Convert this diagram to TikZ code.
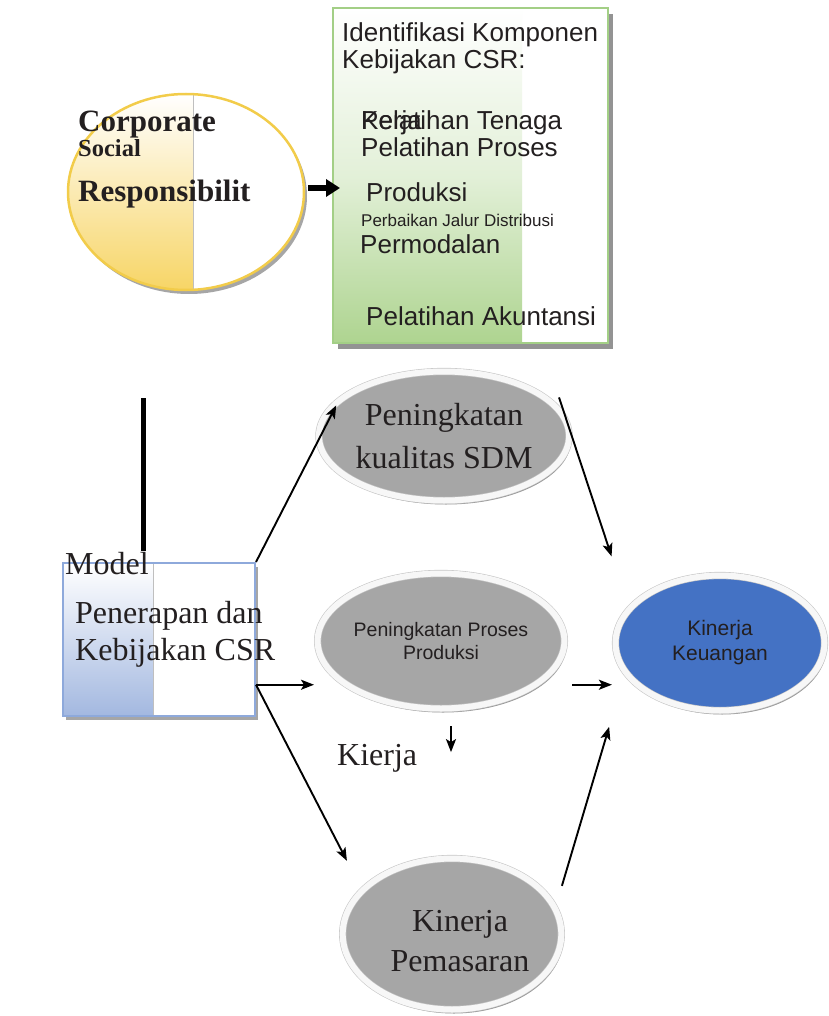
\documentclass[tikz,border=0pt]{standalone}
\usepackage{fontspec}
\setmainfont{Liberation Serif}
\setsansfont{Liberation Sans}
\usetikzlibrary{shapes.geometric,arrows.meta,shadows}

\definecolor{csryellow}{HTML}{F7D566}
\definecolor{csrborder}{HTML}{F2CC4A}
\definecolor{kompgreen}{HTML}{AED490}
\definecolor{kompborder}{HTML}{A3CF86}
\definecolor{modelblue}{HTML}{A3B8E0}
\definecolor{modelborder}{HTML}{8EA9DB}
\definecolor{ovalgray}{HTML}{A6A6A6}
\definecolor{ovalblue}{HTML}{4472C4}
\definecolor{ink}{HTML}{231F20}

\tikzset{
  oval/.style={ellipse, draw=gray!45, double=gray!6, double distance=6pt, line width=0.6pt,
    inner sep=0pt, outer sep=3.6pt, align=center, text=ink,
    drop shadow={shadow xshift=2pt, shadow yshift=-4pt, fill=gray!80, opacity=1}},
  arr/.style={-{Stealth[length=13pt,width=10pt,inset=3pt]}, line width=1.9pt},
  serifbig/.style={font=\fontsize{32}{43}\selectfont},
  sansmid/.style={font=\sffamily\fontsize{19.5}{23}\selectfont},
  plain/.style={anchor=base west, inner sep=0pt, text=ink},
  listtxt/.style={plain, font=\sffamily\fontsize{26}{28}\selectfont},
}

\begin{document}
\begin{tikzpicture}[x=1pt, y=-1pt]
    \useasboundingbox (0,0) rectangle (828,1016);

    % Define top shapes
    \node[ellipse, draw=csrborder, line width=2.5pt, fill=white, minimum width=236pt, minimum height=196pt, inner sep=0pt,
      drop shadow={shadow xshift=3pt, shadow yshift=-4pt, fill=gray!70, opacity=1},
      path picture={\shade[top color=white, bottom color=csryellow] (path picture bounding box.south west) rectangle ([xshift=7pt]path picture bounding box.north);
        \draw[gray!50, line width=0.8pt] ([xshift=7pt]path picture bounding box.north) -- ([xshift=7pt]path picture bounding box.south);}] (csr) at (186,192) {};
    \node[draw=kompborder, line width=2pt, fill=white, minimum width=275pt, minimum height=335pt, inner sep=0pt,
      drop shadow={shadow xshift=5pt, shadow yshift=-6pt, fill=gray!85, opacity=1},
      path picture={\shade[top color=white, bottom color=kompgreen, middle color=kompgreen!35] (path picture bounding box.south west) rectangle ([xshift=-86pt]path picture bounding box.north east);}] (komponen) at (470.5,175.5) {};

    % Texts of the top shapes
    \node[plain, font=\bfseries\fontsize{31}{31}\selectfont] (corporate) at (78,132) {Corporate};
    \node[plain, font=\bfseries\fontsize{24.5}{25}\selectfont] (social) at (78,157) {Social};
    \node[plain, font=\bfseries\fontsize{31}{31}\selectfont] (responsibilit) at (78,202) {Responsibilit};
    \node[listtxt] (identifikasi) at (342,42) {Identifikasi Komponen};
    \node[listtxt] (kebijakancsr) at (342,69) {Kebijakan CSR:};
    \node[listtxt] (kerja) at (361,130) {Kerja};
    \node[listtxt] (tenaga) at (361,130) {Pelatihan Tenaga};
    \node[listtxt] (prosestxt) at (361,157) {Pelatihan Proses};
    \node[listtxt] (produksi) at (366,202) {Produksi};
    \node[plain, font=\sffamily\fontsize{17}{18}\selectfont] (distribusi) at (361,226) {Perbaikan Jalur Distribusi};
    \node[listtxt] (permodalan) at (360,253) {Permodalan};
    \node[listtxt] (akuntansi) at (366,325) {Pelatihan Akuntansi};

    % Model box
    \node[draw=modelborder, line width=2pt, fill=white, minimum width=192pt, minimum height=153pt, inner sep=0pt,
      drop shadow={shadow xshift=3pt, shadow yshift=-4pt, fill=gray!70, opacity=1},
      path picture={\shade[top color=white, bottom color=modelblue] (path picture bounding box.south west) rectangle ([xshift=-102pt]path picture bounding box.north east);
        \draw[gray!50, line width=0.8pt] ([xshift=-102pt]path picture bounding box.north east) -- ([xshift=-102pt]path picture bounding box.south east);}] (model) at (159,639.5) {};
    \node[plain, serifbig] (modeltxt) at (65,574) {Model};
    \node[plain, serifbig] (penerapan) at (75,623) {Penerapan dan};
    \node[plain, serifbig] (kebijakan) at (75,660) {Kebijakan CSR};
    \node[plain, serifbig] (kierja) at (337,765) {Kierja};

    % Define ovals
    \node[oval, fill=ovalgray, minimum width=203pt, minimum height=129pt, serifbig] (sdm) at (444,436) {Peningkatan\\kualitas SDM};
    \node[oval, fill=ovalgray, minimum width=191pt, minimum height=135pt, sansmid] (proses) at (441,641) {Peningkatan Proses\\Produksi};
    \node[oval, fill=ovalblue, minimum width=209pt, minimum height=135pt, font=\sffamily\fontsize{21}{25}\selectfont] (keuangan) at (720,643) {Kinerja\\Keuangan};
    \node[oval, fill=ovalgray, minimum width=193pt, minimum height=151pt, font=\fontsize{32}{40}\selectfont] (pemasaran) at (452,934) {\rule{0pt}{36pt}\hspace*{16pt}Kinerja\\\hspace*{16pt}Pemasaran};

    % Draw edges with arrows
    \draw[-{Triangle[length=14pt,width=17pt]}, line width=6pt, shorten >=-8pt] ([xshift=3pt,yshift=4pt]csr.east) -- ([yshift=4pt]komponen.west |- csr.east);
    \coordinate (bartop) at (143,398);
    \draw[line width=5pt] (bartop) -- ([yshift=11pt]bartop |- model.north);
    \draw[arr, shorten >=12pt] (model.north east) -- (sdm.158);
    \draw[arr] (model.-25.6) -- (proses.west |- model.-25.6);
    \draw[arr, shorten >=30pt] (model.-25.6) -- (pemasaran.153);
    \draw[arr, shorten >=52pt] ([xshift=9pt]sdm.20) -- (keuangan.158.6);
    \draw[arr, shorten <=4pt] (proses.east |- model.-25.6) -- (keuangan.west |- model.-25.6);
    \draw[arr, shorten <=19pt, shorten >=53pt] (pemasaran.16.3) -- (keuangan.199.2);
    \draw[arr] ([xshift=10pt,yshift=-14pt]proses.south) -- ++(0,26);
\end{tikzpicture}
\end{document}
